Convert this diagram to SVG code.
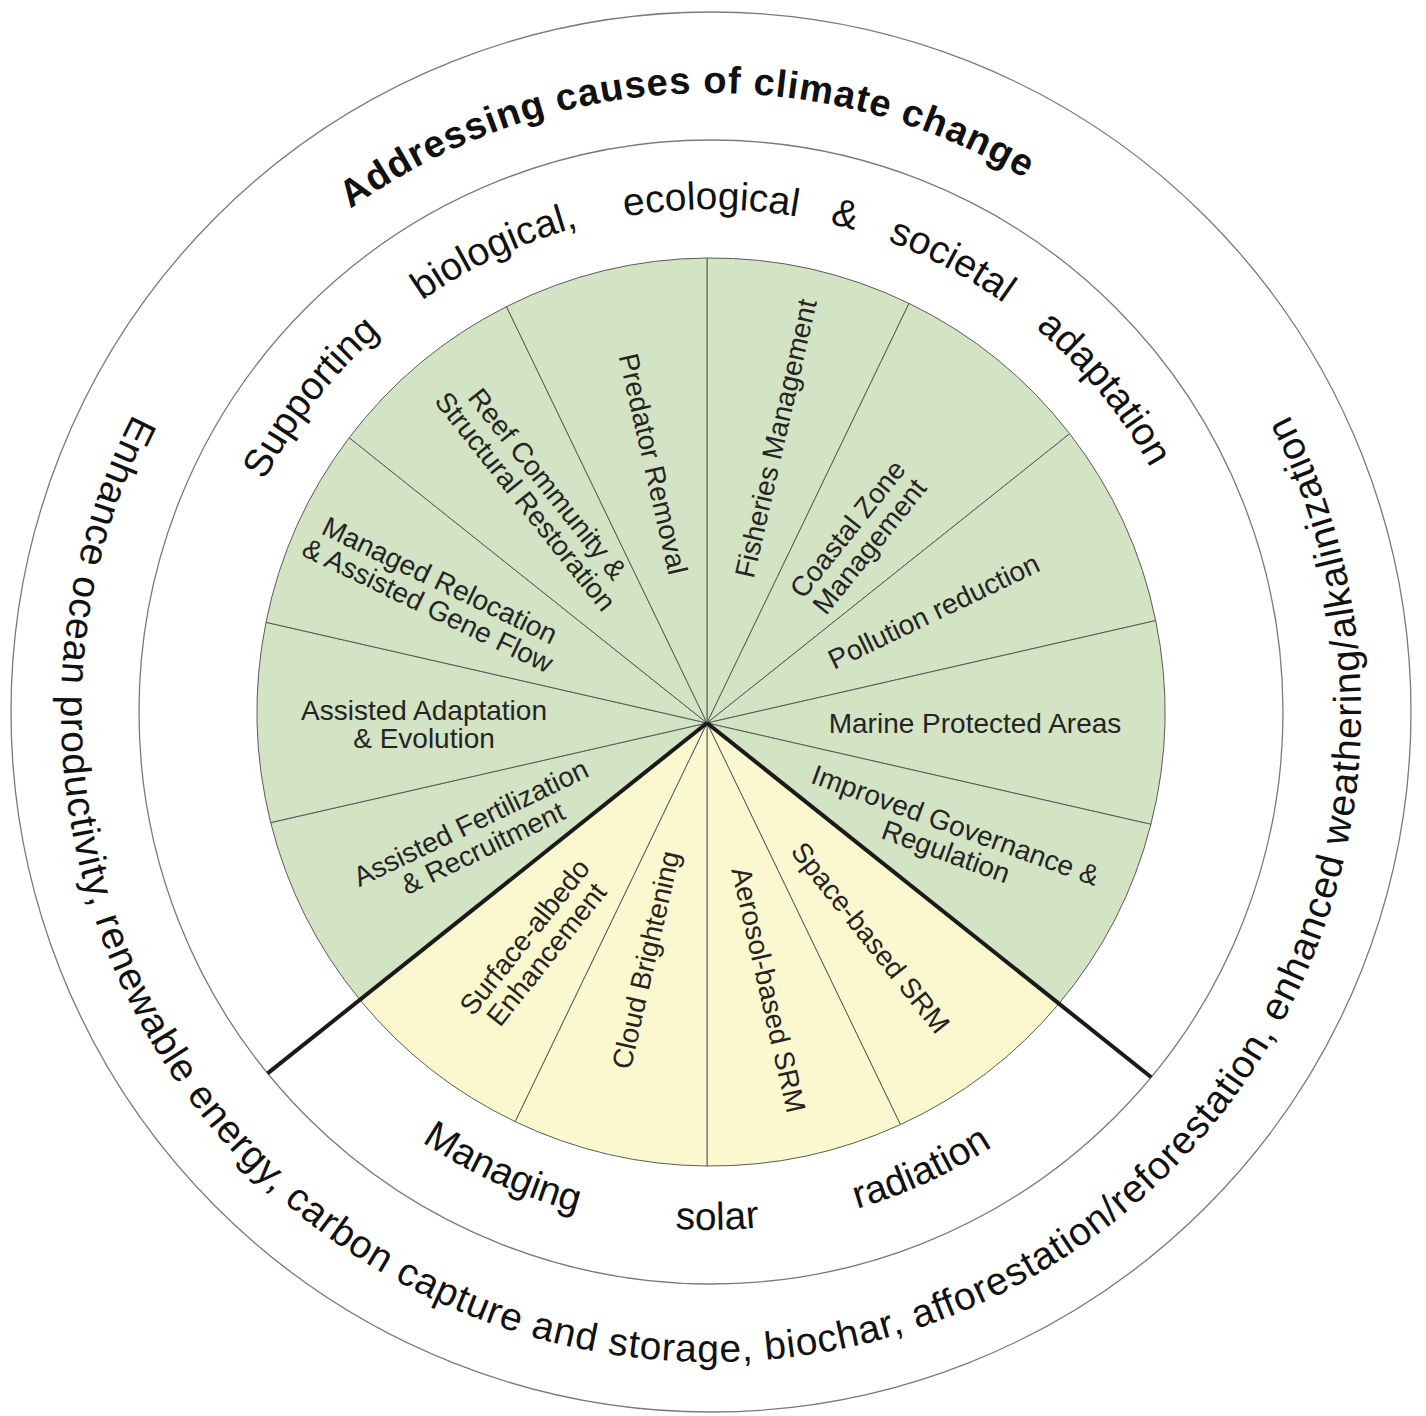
<svg xmlns="http://www.w3.org/2000/svg" width="1426" height="1416" viewBox="0 0 1426 1416">
  <style>
    .ring { fill: none; stroke: #7a7a7a; stroke-width: 1.3; }
    .green { fill: #d2e4c4; stroke: #5a5a5a; stroke-width: 1; stroke-linejoin: round; }
    .yellow { fill: #fbf8cf; stroke: #5a5a5a; stroke-width: 1; stroke-linejoin: round; }
    .thick { stroke: #1a1a1a; stroke-width: 4; stroke-linecap: butt; fill: none; }
    .lbl { font-family: "Liberation Sans", Arial, sans-serif; font-size: 28px; fill: #262324; text-anchor: middle; }
    .arc { font-family: "Liberation Sans", Arial, sans-serif; font-size: 39px; fill: #111; }
    .bold { font-weight: bold; font-size: 38px; letter-spacing: 1px; }
    .outer { letter-spacing: 0.8px; }
  </style>
  <defs>
    <path id="pOuter" d="M 178.55,339.17 A 650 650 0 1 0 1243.45,339.17"/>
    <path id="pTopBold" d="M 92,712 A 619 619 0 0 1 1330,712"/>
    <path id="pTopMid" d="M 208,712 A 503 503 0 0 1 1214,712"/>
    <path id="pBotMid" d="M 193,712 A 518 518 0 0 0 1229,712"/>
  </defs>
  <rect x="0" y="0" width="1426" height="1416" fill="#ffffff"/>

  <g id="rings">
    <circle class="ring" cx="711" cy="712" r="700"/>
    <circle class="ring" cx="711" cy="712" r="572"/>
  </g>

  <g id="seg-fisheries">
    <path class="green" d="M 707,723 L 707,258 A 454 454 0 0 1 909,303.4 Z"/>
    <text class="lbl" transform="translate(776.5,438.5) rotate(-77.14)" y="9">Fisheries Management</text>
  </g>
  <g id="seg-coastal">
    <path class="green" d="M 707,723 L 909,303.4 A 454 454 0 0 1 1069.7,433.7 Z"/>
    <text class="lbl" transform="translate(859,538) rotate(-51.43)"><tspan x="0" y="-5">Coastal Zone</tspan><tspan x="0" y="23">Management</tspan></text>
  </g>
  <g id="seg-pollution">
    <path class="green" d="M 707,723 L 1069.7,433.7 A 454 454 0 0 1 1155.7,620.6 Z"/>
    <text class="lbl" transform="translate(934,612) rotate(-25.71)" y="9">Pollution reduction</text>
  </g>
  <g id="seg-mpa">
    <path class="green" d="M 707,723 L 1155.7,620.6 A 454 454 0 0 1 1150.9,824.3 Z"/>
    <text class="lbl" transform="translate(975,724)" y="9">Marine Protected Areas</text>
  </g>
  <g id="seg-governance">
    <path class="green" d="M 707,723 L 1150.9,824.3 A 454 454 0 0 1 1058.9,1003.7 Z"/>
    <text class="lbl" transform="translate(950.5,839) rotate(20)"><tspan x="0" y="-5">Improved Governance &amp;</tspan><tspan x="0" y="23">Regulation</tspan></text>
  </g>
  <g id="seg-space">
    <path class="yellow" d="M 707,723 L 1058.9,1003.7 A 454 454 0 0 1 900.4,1124.6 Z"/>
    <text class="lbl" transform="translate(870,938) rotate(51.43)" y="9">Space-based SRM</text>
  </g>
  <g id="seg-aerosol">
    <path class="yellow" d="M 707,723 L 900.4,1124.6 A 454 454 0 0 1 707,1166 Z"/>
    <text class="lbl" transform="translate(768,990) rotate(77.14)" y="9">Aerosol-based SRM</text>
  </g>
  <g id="seg-cloud">
    <path class="yellow" d="M 707,723 L 707,1166 A 454 454 0 0 1 515.1,1121.6 Z"/>
    <text class="lbl" transform="translate(646.5,960) rotate(-77.14)" y="9">Cloud Brightening</text>
  </g>
  <g id="seg-albedo">
    <path class="yellow" d="M 707,723 L 515.1,1121.6 A 454 454 0 0 1 359.9,999.8 Z"/>
    <text class="lbl" transform="translate(536,946) rotate(-51.43)"><tspan x="0" y="-5">Surface-albedo</tspan><tspan x="0" y="23">Enhancement</tspan></text>
  </g>
  <g id="seg-fertilization">
    <path class="green" d="M 707,723 L 359.9,999.8 A 454 454 0 0 1 270.7,822.6 Z"/>
    <text class="lbl" transform="translate(477,836) rotate(-25.71)"><tspan x="0" y="-5">Assisted Fertilization</tspan><tspan x="0" y="23">&amp; Recruitment</tspan></text>
  </g>
  <g id="seg-adaptation">
    <path class="green" d="M 707,723 L 270.7,822.6 A 454 454 0 0 1 266,622.3 Z"/>
    <text class="lbl" transform="translate(424,724)"><tspan x="0" y="-4">Assisted Adaptation</tspan><tspan x="0" y="24">&amp; Evolution</tspan></text>
  </g>
  <g id="seg-relocation">
    <path class="green" d="M 707,723 L 266,622.3 A 454 454 0 0 1 349.2,437.7 Z"/>
    <text class="lbl" transform="translate(433.5,593.5) rotate(25.71)"><tspan x="0" y="-5">Managed Relocation</tspan><tspan x="0" y="23">&amp; Assisted Gene Flow</tspan></text>
  </g>
  <g id="seg-reef">
    <path class="green" d="M 707,723 L 349.2,437.7 A 454 454 0 0 1 506.5,306.6 Z"/>
    <text class="lbl" transform="translate(536,493) rotate(51.43)"><tspan x="0" y="-5">Reef Community &amp;</tspan><tspan x="0" y="23">Structural Restoration</tspan></text>
  </g>
  <g id="seg-predator">
    <path class="green" d="M 707,723 L 506.5,306.6 A 454 454 0 0 1 707,258 Z"/>
    <text class="lbl" transform="translate(652.5,464) rotate(77.14)" y="9">Predator Removal</text>
  </g>

  <g id="connectors">
    <line class="thick" x1="707" y1="723" x2="267.6" y2="1073.4"/>
    <line class="thick" x1="707" y1="723" x2="1151.2" y2="1077.2"/>
  </g>

  <g id="band-adaptation">
    <text class="arc"><textPath href="#pTopMid" startOffset="21.2%" text-anchor="middle">Supporting</textPath></text>
    <text class="arc"><textPath href="#pTopMid" startOffset="36%" text-anchor="middle">biological,</textPath></text>
    <text class="arc"><textPath href="#pTopMid" startOffset="50%" text-anchor="middle">ecological</textPath></text>
    <text class="arc"><textPath href="#pTopMid" startOffset="58.4%" text-anchor="middle">&amp;</textPath></text>
    <text class="arc"><textPath href="#pTopMid" startOffset="65.6%" text-anchor="middle">societal</textPath></text>
    <text class="arc"><textPath href="#pTopMid" startOffset="78.1%" text-anchor="middle">adaptation</textPath></text>
  </g>
  <g id="band-solar">
    <text class="arc"><textPath href="#pBotMid" startOffset="36.4%" text-anchor="middle">Managing</textPath></text>
    <text class="arc"><textPath href="#pBotMid" startOffset="50.4%" text-anchor="middle">solar</textPath></text>
    <text class="arc"><textPath href="#pBotMid" startOffset="63.7%" text-anchor="middle">radiation</textPath></text>
  </g>
  <g id="band-causes">
    <text class="arc bold"><textPath href="#pTopBold" startOffset="48.6%" text-anchor="middle">Addressing causes of climate change</textPath></text>
    <text class="arc outer"><textPath href="#pOuter" startOffset="50%" text-anchor="middle">Enhance ocean productivity, renewable energy, carbon capture and storage, biochar, afforestation/reforestation, enhanced weathering/alkalinization</textPath></text>
  </g>
</svg>
